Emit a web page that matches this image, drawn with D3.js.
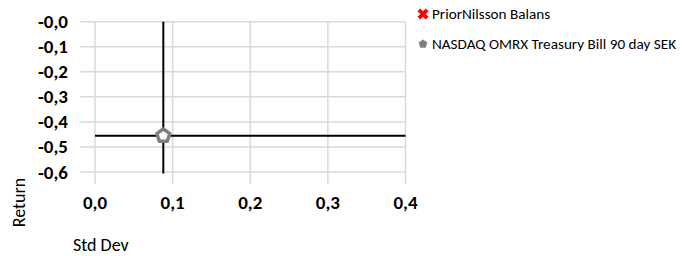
<!DOCTYPE html>
<html><head><meta charset="utf-8">
<script src="https://cdn.jsdelivr.net/npm/d3@7"></script>
<style>
html,body{margin:0;padding:0;background:#fff;}
svg{display:block;font-family:Carlito,Calibri,Lato,"Open Sans",sans-serif;}
</style></head>
<body>
<svg id="c" width="682" height="256"></svg>
<script>
// ---- data ----
const seriesNames = ["PriorNilsson Balans", "NASDAQ OMRX Treasury Bill 90 day SEK"];
const stdDevValues = [null, 0.088];
const returnValues = [null, -0.455];
// error bar (crosshair) extents for the plotted series
const errXLow = [null, 0.0];
const errXHigh = [null, 0.4];
const errYHigh = [null, 0.0];
const errYLow = [null, -0.6];
const xTickValues = [0, 0.1, 0.2, 0.3, 0.4];
const xTickLabels = ["0,0", "0,1", "0,2", "0,3", "0,4"];
const yTickValues = [0, -0.1, -0.2, -0.3, -0.4, -0.5, -0.6];
const yTickLabels = ["-0,0", "-0,1", "-0,2", "-0,3", "-0,4", "-0,5", "-0,6"];

const svg = d3.select("#c");
const x = d3.scaleLinear().domain([0, 0.4]).range([95, 405.5]);
const y = d3.scaleLinear().domain([0, -0.6]).range([21.7, 172]);

const gridColor = "#d9d9d9";
// vertical gridlines (extend below as tick marks)
svg.append("g").selectAll("line").data(xTickValues).join("line")
  .attr("x1", d => x(d)).attr("x2", d => x(d))
  .attr("y1", y(0)).attr("y2", y(-0.6) + 12)
  .attr("stroke", gridColor).attr("stroke-width", 1.5);
// horizontal gridlines (extend left as tick marks)
svg.append("g").selectAll("line").data(yTickValues).join("line")
  .attr("x1", x(0) - 15).attr("x2", x(0.4))
  .attr("y1", d => y(d)).attr("y2", d => y(d))
  .attr("stroke", gridColor).attr("stroke-width", 1.5);

// tick labels
svg.append("g").selectAll("text").data(xTickValues).join("text")
  .attr("x", d => x(d)).attr("y", 209)
  .attr("text-anchor", "middle").attr("font-weight", "bold").attr("font-size", 19)
  .attr("fill", "#000").text((d, i) => xTickLabels[i]);
svg.append("g").selectAll("text").data(yTickValues).join("text")
  .attr("x", 68).attr("y", d => y(d) + 6.5)
  .attr("text-anchor", "end").attr("font-weight", "bold").attr("font-size", 19)
  .attr("fill", "#000").text((d, i) => yTickLabels[i]);

// axis titles
svg.append("text").attr("transform", "translate(25,202.5) rotate(-90)")
  .attr("text-anchor", "middle").attr("font-size", 18).attr("fill", "#000").text("Return");
svg.append("text").attr("x", 73).attr("y", 251)
  .attr("font-size", 18).attr("fill", "#000").text("Std Dev");

// error bars
const pts = seriesNames.map((n, i) => ({n, i, sx: stdDevValues[i], ry: returnValues[i]}))
  .filter(d => d.sx != null && d.ry != null);
const eb = svg.append("g");
pts.forEach(d => {
  eb.append("line").attr("x1", x(errXLow[d.i])).attr("x2", x(errXHigh[d.i]))
    .attr("y1", y(d.ry)).attr("y2", y(d.ry)).attr("stroke", "#000").attr("stroke-width", 2);
  eb.append("line").attr("x1", x(d.sx)).attr("x2", x(d.sx))
    .attr("y1", y(errYHigh[d.i])).attr("y2", y(errYLow[d.i]) + 1.5).attr("stroke", "#000").attr("stroke-width", 2);
});

// pentagon symbol
const pentagon = {
  draw(ctx, size) {
    const r = Math.sqrt(size / 2.378);
    for (let k = 0; k < 5; k++) {
      const a = -Math.PI / 2 + k * 2 * Math.PI / 5;
      const px = r * Math.cos(a), py = r * Math.sin(a);
      if (k === 0) ctx.moveTo(px, py); else ctx.lineTo(px, py);
    }
    ctx.closePath();
  }
};
svg.append("g").selectAll("path").data(pts).join("path")
  .attr("transform", d => `translate(${x(d.sx)},${y(d.ry)})`)
  .attr("d", d3.symbol().type(pentagon).size(110))
  .attr("fill", "#fff").attr("stroke", "#7f7f7f").attr("stroke-width", 3.5)
  .attr("stroke-linejoin", "round");

// legend
const lg = svg.append("g");
const legY = [14, 44];
lg.append("path").attr("transform", `translate(423,${legY[0]}) rotate(45)`)
  .attr("d", d3.symbol().type(d3.symbolCross).size(75)).attr("fill", "#ff0000");
lg.append("path").attr("transform", `translate(423,${legY[1]})`)
  .attr("d", d3.symbol().type(pentagon).size(50)).attr("fill", "#7f7f7f");
lg.selectAll("text").data(seriesNames).join("text")
  .attr("x", 432).attr("y", (d, i) => legY[i] + 5)
  .attr("font-size", 15.2).attr("fill", "#000").text(d => d);
</script>
</body></html>
